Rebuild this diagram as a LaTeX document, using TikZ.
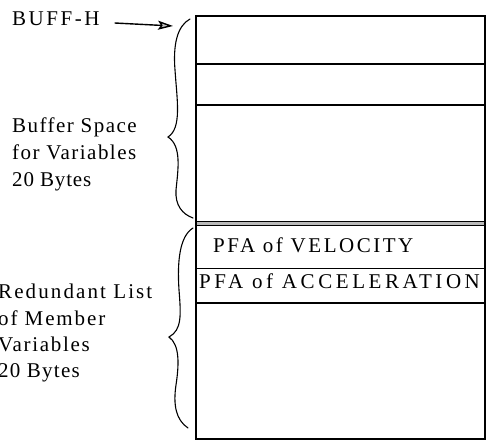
\documentclass[tikz,border=0pt]{standalone}
\usepackage{fontspec}
\setmainfont{Liberation Serif}
\newcommand{\trk}[1]{\addfontfeature{LetterSpace=#1}}
\usetikzlibrary{arrows.meta}
\begin{document}
\begin{tikzpicture}[x=1pt,y=-1pt,
  lbl/.style={anchor=base west,inner sep=0pt,font=\fontsize{21}{27}\selectfont},
  boxline/.style={line width=1.3pt},
  cellline/.style={line width=1.2pt},
  bracestyle/.style={line width=1.1pt,line cap=round},
  ptr/.style={line width=1.4pt,-{Stealth[length=15pt,width=9pt,inset=3pt,fill=gray!50]}}]
\useasboundingbox (0,0) rectangle (487,442);
% memory box
\coordinate (tl) at (196,16);
\coordinate (br) at (485,439);
\draw[cellline] (196,64) -- (485,64);
\draw[cellline] (196,105) -- (485,105);
\fill[gray!55] (196,221) rectangle (485,225.5);
\draw[line width=0.9pt] (196,221) -- (485,221);
\draw[line width=0.9pt] (196,225.5) -- (485,225.5);
\draw[line width=1.6pt] (196,268.5) -- (485,268.5);
\draw[cellline] (196,303) -- (485,303);
\draw[boxline] (tl) rectangle (br);
% cell texts
\node[lbl] (vel) at (213,252) {\trk{12}PFA of VELOCITY};
\node[lbl] (acc) at (199,288) {\trk{17}PFA of ACCELERATION};
% labels
\node[lbl] (buffh) at (12,25) {\trk{12}BUFF-H};
\node[lbl] (bs1) at (12,132) {\trk{7}Buffer Space};
\node[lbl] (bs2) at (12,159) {\trk{7}for Variables};
\node[lbl] (bs3) at (12,186) {\trk{4}20 Bytes};
\node[lbl] (rl1) at (-2,298) {\trk{10}Redundant List};
\node[lbl] (rl2) at (-2,325) {\trk{9}of Member};
\node[lbl] (rl3) at (-2,351) {\trk{8}Variables};
\node[lbl] (rl4) at (-2,377) {\trk{6}20 Bytes};
% braces
\coordinate (ubtop) at (190,19);
\draw[bracestyle] (ubtop) .. controls (177,26) and (173,45) .. (175,70)
  .. controls (177,100) and (182,128) .. (168,137)
  .. controls (182,146) and (178,170) .. (176,190)
  .. controls (175,205) and (182,214) .. (193,218);
\draw[bracestyle] (193,228) .. controls (180,236) and (177,260) .. (179,290)
  .. controls (181,315) and (182,330) .. (169,337)
  .. controls (180,345) and (179,365) .. (176,385)
  .. controls (173,405) and (176,420) .. (188,428);
% pointer
\coordinate (ptrtip) at (173,26);
\draw[ptr] ([xshift=15pt,yshift=2pt]buffh.base east) -- (ptrtip);
\end{tikzpicture}
\end{document}
